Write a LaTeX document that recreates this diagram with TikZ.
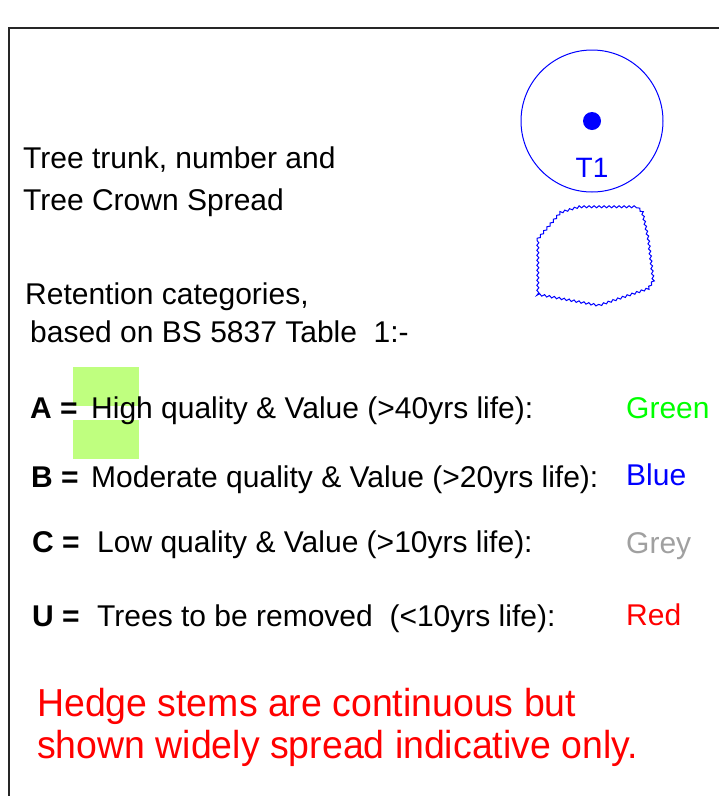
\documentclass[tikz,border=0pt]{standalone}
\usepackage{fontspec}
\setmainfont{Liberation Sans}
\newfontfamily\narrowfont[FakeStretch=0.96]{Liberation Sans}
\usetikzlibrary{decorations.pathmorphing}
\definecolor{hlgreen}{RGB}{191,255,127}
\definecolor{treeblue}{RGB}{0,0,255}
\definecolor{catgrey}{RGB}{160,160,160}
\tikzset{
  txt/.style={anchor=base west,inner sep=0pt,font=\fontsize{30}{35}\selectfont},
  key/.style={txt,font=\fontsize{30}{35}\selectfont\bfseries},
  note/.style={anchor=base west,inner sep=0pt,text=red,font=\narrowfont\fontsize{39}{42}\selectfont},
  frameline/.style={line width=1.5pt,black!85},
  crown/.style={draw=treeblue,line width=1pt,decorate,decoration={snake,amplitude=1pt,segment length=5pt}}
}
\begin{document}
\begin{tikzpicture}[x=1pt,y=-1pt]
\useasboundingbox (0,0) rectangle (719,796);
% frame
\coordinate (ftr) at (719,28);
\coordinate (ftl) at (9,28);
\coordinate (fbl) at (9,796);
\draw[frameline] (ftr) -- (ftl) -- (fbl);
% highlight
\fill[hlgreen] (73,367) rectangle (139,406);
\fill[hlgreen] (73,420) rectangle (139,459);
% tree symbol
\draw[treeblue,line width=1pt] (592,121) circle (71);
\fill[treeblue] (592,121) circle (9);
\node[txt,text=treeblue,anchor=base,font=\fontsize{28}{33}\selectfont] (t1) at (592,177) {T1};
% crown spread blob
\draw[crown] (537,240) -- (560,213) -- (580,207) -- (636,207) -- (642,213) -- (648,240) -- (653,282) -- (648,290) -- (598,307) -- (537,296) -- cycle;
% texts
\node[txt] (l1) at (23,168) {Tree trunk, number and};
\node[txt] (l2) at (23,210) {Tree Crown Spread};
\node[txt] (r1) at (25,304) {Retention categories,};
\node[txt] (r2) at (30,342) {based on BS 5837 Table\ \ 1:-};
\node[key] (ka) at (30,418) {A =};
\node[txt] (ta) at (91,418) {High quality \& Value (>40yrs life):};
\node[key] (kb) at (31,487) {B =};
\node[txt] (tb) at (91,487) {Moderate quality \& Value (>20yrs life):};
\node[key] (kc) at (32,552) {C =};
\node[txt] (tc) at (97,552) {Low quality \& Value (>10yrs life):};
\node[key] (ku) at (32,626) {U =};
\node[txt] (tu) at (97,626) {Trees to be removed\ \ (<10yrs life):};
\node[txt,text={rgb,255:red,0;green,255;blue,0}] (ca) at (626,418) {Green};
\node[txt,text=treeblue] (cb) at (626,485) {Blue};
\node[txt,text=catgrey] (cc) at (626,553) {Grey};
\node[txt,text=red] (cu) at (626,625) {Red};
\node[note] (n1) at (37,716) {Hedge stems are continuous but};
\node[note] (n2) at (37,758) {shown widely spread indicative only.};
\end{tikzpicture}
\end{document}
